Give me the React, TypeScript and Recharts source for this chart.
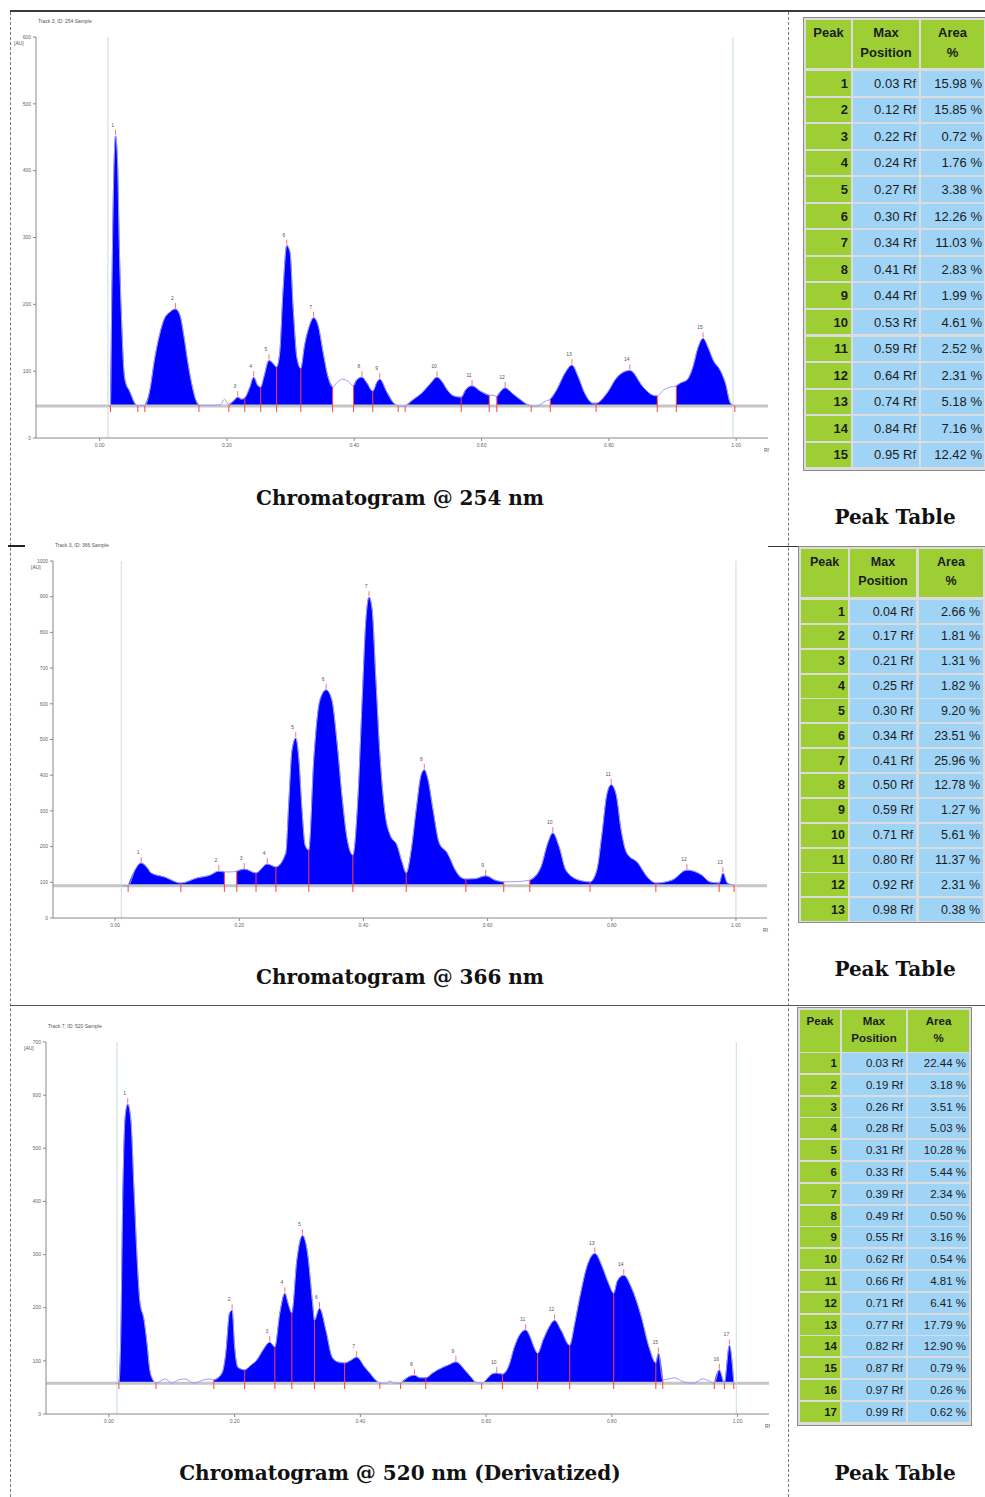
import React from 'react'
import { ComposedChart, Area, Line, XAxis, YAxis, ReferenceLine, Scatter } from 'recharts'

type Pt = [number, number]

// ---- 254 nm : signal [Rf, AU], integration windows, table
const sig254: Pt[] = [
  [0.013, 48], [0.017, 48], [0.019, 206], [0.022, 385], [0.025, 452], [0.028, 415], [0.031, 281], [0.035, 161],
  [0.038, 101], [0.041, 82], [0.046, 72], [0.05, 63], [0.055, 52], [0.06, 48], [0.065, 49], [0.071, 48],
  [0.079, 72], [0.086, 116], [0.094, 154], [0.102, 179], [0.11, 188], [0.119, 193], [0.126, 184], [0.132, 154],
  [0.138, 116], [0.145, 79], [0.151, 57], [0.156, 49], [0.165, 49], [0.18, 49], [0.19, 50], [0.196, 58],
  [0.203, 50], [0.21, 55], [0.217, 61], [0.223, 58], [0.228, 60], [0.236, 76], [0.242, 91], [0.248, 79],
  [0.253, 76], [0.258, 91], [0.266, 116], [0.272, 112], [0.278, 106], [0.283, 128], [0.288, 218], [0.294, 288],
  [0.299, 278], [0.304, 194], [0.31, 119], [0.316, 104], [0.322, 139], [0.33, 169], [0.336, 180], [0.343, 169],
  [0.351, 128], [0.358, 94], [0.366, 76], [0.375, 85], [0.382, 88], [0.39, 85], [0.399, 78], [0.404, 87],
  [0.412, 91], [0.42, 82], [0.429, 70], [0.436, 84], [0.44, 88], [0.451, 69], [0.462, 52], [0.469, 48],
  [0.474, 47], [0.48, 48], [0.492, 57], [0.508, 69], [0.52, 82], [0.53, 91], [0.538, 84], [0.546, 72],
  [0.556, 63], [0.568, 61], [0.575, 72], [0.585, 78], [0.598, 70], [0.612, 64], [0.618, 64], [0.624, 62],
  [0.63, 70], [0.637, 75], [0.648, 67], [0.66, 58], [0.672, 50], [0.678, 48], [0.685, 47], [0.692, 50],
  [0.7, 55], [0.708, 58], [0.718, 72], [0.731, 97], [0.742, 109], [0.752, 91], [0.762, 67], [0.775, 52],
  [0.78, 52], [0.797, 67], [0.813, 91], [0.833, 101], [0.854, 76], [0.869, 64], [0.876, 63], [0.886, 72],
  [0.896, 76], [0.906, 78], [0.912, 82], [0.923, 87], [0.932, 106], [0.94, 135], [0.948, 149], [0.956, 135],
  [0.964, 116], [0.975, 101], [0.983, 82], [0.991, 52], [0.998, 48],
]
const win254: Pt[] = [
  [0.017, 0.06], [0.071, 0.156], [0.203, 0.228], [0.228, 0.253], [0.253, 0.278], [0.278, 0.316], [0.316, 0.366],
  [0.399, 0.429], [0.429, 0.469], [0.48, 0.568], [0.568, 0.612], [0.624, 0.678], [0.708, 0.78], [0.78, 0.876], [0.906, 0.998],
]
const edges254 = [0.013, 0.995]
const yTicks254 = [0, 100, 200, 300, 400, 500, 600]
const pos254 = ['0.03', '0.12', '0.22', '0.24', '0.27', '0.30', '0.34', '0.41', '0.44', '0.53', '0.59', '0.64', '0.74', '0.84', '0.95']
const area254 = ['15.98', '15.85', '0.72', '1.76', '3.38', '12.26', '11.03', '2.83', '1.99', '4.61', '2.52', '2.31', '5.18', '7.16', '12.42']

// ---- 366 nm
const sig366: Pt[] = [
  [0.01, 90], [0.021, 90], [0.032, 134], [0.042, 154], [0.052, 140], [0.058, 126], [0.079, 115], [0.106, 98],
  [0.132, 112], [0.153, 120], [0.167, 131], [0.176, 129], [0.185, 129], [0.196, 131], [0.208, 137], [0.227, 126],
  [0.245, 151], [0.259, 143], [0.275, 182], [0.28, 331], [0.285, 470], [0.291, 504], [0.296, 443], [0.301, 303],
  [0.306, 204], [0.312, 190], [0.32, 443], [0.33, 611], [0.34, 639], [0.349, 611], [0.357, 499], [0.366, 331],
  [0.374, 218], [0.383, 176], [0.391, 331], [0.398, 611], [0.404, 835], [0.409, 899], [0.414, 863], [0.42, 667],
  [0.427, 443], [0.435, 289], [0.443, 232], [0.454, 204], [0.462, 157], [0.469, 126], [0.477, 190], [0.485, 303],
  [0.493, 401], [0.498, 415], [0.504, 387], [0.512, 303], [0.522, 210], [0.535, 182], [0.548, 134], [0.556, 115],
  [0.565, 109], [0.58, 110], [0.597, 118], [0.612, 106], [0.626, 101], [0.647, 102], [0.668, 106], [0.686, 143],
  [0.697, 210], [0.705, 238], [0.715, 200], [0.726, 134], [0.747, 106], [0.765, 101], [0.776, 134], [0.784, 232],
  [0.792, 345], [0.799, 373], [0.807, 345], [0.815, 246], [0.824, 182], [0.842, 154], [0.857, 115], [0.871, 98],
  [0.897, 106], [0.921, 134], [0.945, 120], [0.958, 101], [0.973, 98], [0.979, 126], [0.986, 98], [0.997, 92],
]
const win366: Pt[] = [
  [0.021, 0.106], [0.106, 0.176], [0.196, 0.227], [0.227, 0.259], [0.259, 0.312], [0.312, 0.383], [0.383, 0.469],
  [0.469, 0.565], [0.565, 0.626], [0.668, 0.765], [0.765, 0.871], [0.871, 0.973], [0.973, 0.997],
]
const edges366 = [0.01, 1.0]
const yTicks366 = [0, 100, 200, 300, 400, 500, 600, 700, 800, 900, 1000]
const pos366 = ['0.04', '0.17', '0.21', '0.25', '0.30', '0.34', '0.41', '0.50', '0.59', '0.71', '0.80', '0.92', '0.98']
const area366 = ['2.66', '1.81', '1.31', '1.82', '9.20', '23.51', '25.96', '12.78', '1.27', '5.61', '11.37', '2.31', '0.38']

// ---- 520 nm (derivatized)
const sig520: Pt[] = [
  [0.011, 58], [0.016, 58], [0.019, 150], [0.022, 400], [0.026, 560], [0.03, 583], [0.035, 552], [0.04, 420],
  [0.045, 289], [0.049, 214], [0.056, 176], [0.06, 139], [0.065, 83], [0.07, 64], [0.075, 58], [0.09, 66],
  [0.1, 58], [0.11, 64], [0.121, 66], [0.135, 58], [0.15, 64], [0.16, 66], [0.167, 64], [0.18, 77],
  [0.186, 114], [0.192, 190], [0.196, 195], [0.2, 126], [0.205, 88], [0.216, 83], [0.226, 92], [0.235, 101],
  [0.245, 120], [0.256, 135], [0.264, 126], [0.272, 190], [0.28, 227], [0.285, 208], [0.291, 190], [0.299, 289],
  [0.308, 336], [0.316, 302], [0.324, 208], [0.327, 176], [0.335, 199], [0.345, 158], [0.355, 107], [0.364, 98],
  [0.375, 96], [0.385, 101], [0.394, 107], [0.407, 88], [0.415, 77], [0.424, 64], [0.431, 58], [0.44, 57],
  [0.447, 62], [0.455, 57], [0.464, 58], [0.477, 70], [0.486, 73], [0.495, 68], [0.504, 68], [0.515, 77],
  [0.523, 83], [0.54, 92], [0.552, 98], [0.566, 83], [0.577, 68], [0.583, 60], [0.593, 58], [0.603, 68],
  [0.609, 75], [0.617, 77], [0.626, 75], [0.636, 90], [0.645, 126], [0.654, 150], [0.663, 158], [0.67, 145],
  [0.676, 126], [0.682, 114], [0.691, 140], [0.7, 163], [0.709, 176], [0.719, 158], [0.733, 129], [0.741, 170],
  [0.749, 219], [0.762, 283], [0.773, 302], [0.785, 276], [0.795, 245], [0.803, 227], [0.809, 251], [0.819, 261],
  [0.831, 238], [0.847, 182], [0.859, 126], [0.87, 96], [0.874, 114], [0.881, 64], [0.89, 66], [0.9, 68],
  [0.915, 60], [0.93, 58], [0.945, 66], [0.955, 62], [0.963, 58], [0.971, 83], [0.979, 58], [0.987, 129], [0.994, 58],
]
const win520: Pt[] = [
  [0.016, 0.075], [0.167, 0.216], [0.216, 0.264], [0.264, 0.291], [0.291, 0.327], [0.327, 0.375], [0.375, 0.431],
  [0.464, 0.504], [0.504, 0.593], [0.593, 0.626], [0.626, 0.682], [0.682, 0.733], [0.733, 0.803], [0.803, 0.87],
  [0.87, 0.881], [0.963, 0.979], [0.979, 0.994],
]
const edges520 = [0.013, 0.998]
const yTicks520 = [0, 100, 200, 300, 400, 500, 600, 700]
const pos520 = ['0.03', '0.19', '0.26', '0.28', '0.31', '0.33', '0.39', '0.49', '0.55', '0.62', '0.66', '0.71', '0.77', '0.82', '0.87', '0.97', '0.99']
const area520 = ['22.44', '3.18', '3.51', '5.03', '10.28', '5.44', '2.34', '0.50', '3.16', '0.54', '4.81', '6.41', '17.79', '12.90', '0.79', '0.26', '0.62']

const xTicks = [0, 0.2, 0.4, 0.6, 0.8, 1.0]
const GREEN = '#9dcf35'
const BLUE = '#9fd4f6'

const PeakMark = (p: any) => {
  const { cx, cy, payload } = p
  if (cx == null || cy == null) return <g />
  return (
    <g>
      <line x1={cx} x2={cx} y1={cy - 1} y2={cy - 6} stroke="#ff7070" strokeWidth={1} />
      <text x={cx - 3} y={cy - 9} fontSize={5} fill="#555" textAnchor="middle" fontFamily="Liberation Sans">{payload.id}</text>
    </g>
  )
}

function Chromatogram({ sig, wins, edges, base, yTicks, tickAU, box, title }: any) {
  const YW = 30, MT = 12, MR = 14, XH = 22
  const inWin = (rf: number) => wins.some(([a, b]: Pt) => rf >= a - 1e-9 && rf <= b + 1e-9)
  const data = sig.map(([rf, v]: Pt) => ({ rf, sig: v, fill: inWin(rf) ? v : null }))
  const bounds: number[] = Array.from(new Set<number>(wins.flat())).sort((a, b) => a - b)
  const at = (x: number) => { const p = sig.find((q: Pt) => Math.abs(q[0] - x) < 1e-9); return p ? p[1] : base }
  const tops = wins.map(([a, b]: Pt, i: number) => {
    let best: any = null
    for (const [rf, v] of sig) if (rf >= a && rf <= b && (!best || v > best.au)) best = { rf, au: v, id: i + 1 }
    return best
  })
  const yMax = yTicks[yTicks.length - 1]
  return (
    <>
      <div style={{ position: 'absolute', left: box.left + 2, top: box.top - 19, fontSize: 5, color: '#555' }}>{title}</div>
      <div style={{ position: 'absolute', left: box.left - 22, top: box.top + 3, fontSize: 5, color: '#555' }}>[AU]</div>
      <div style={{ position: 'absolute', left: box.left + box.w - 4, top: box.top + box.h + 9, fontSize: 5, color: '#555' }}>Rf</div>
      <div style={{ position: 'absolute', left: box.left - YW, top: box.top - MT }}>
        <ComposedChart width={YW + box.w + MR} height={MT + box.h + XH} data={data} margin={{ top: MT, right: MR, bottom: 0, left: 0 }}>
          <XAxis type="number" dataKey="rf" domain={[-0.1, 1.05]} ticks={xTicks} allowDataOverflow
            tickFormatter={(v: number) => v.toFixed(2)} tick={{ fontSize: 5, fill: '#666' }} tickSize={3} stroke="#888" height={XH} interval={0} />
          <YAxis type="number" domain={[0, yMax]} ticks={yTicks} allowDataOverflow width={YW}
            tick={{ fontSize: 5, fill: '#666' }} tickSize={3} stroke="#888" interval={0} />
          <ReferenceLine y={base} stroke="#c6c6c6" strokeWidth={3} />
          {edges.map((e: number) => <ReferenceLine key={'e' + e} x={e} stroke="#c6dddd" strokeWidth={1} />)}
          <Line dataKey="sig" type="monotone" stroke="#9a9aff" strokeWidth={1} dot={false} isAnimationActive={false} />
          <Area dataKey="fill" type="monotone" baseValue={base} fill="#0000ff" fillOpacity={1} stroke="#1a1aff" strokeWidth={0.6}
            connectNulls={false} isAnimationActive={false} />
          {bounds.map((b) => (
            <ReferenceLine key={'b' + b} segment={[{ x: b, y: base - tickAU }, { x: b, y: at(b) }]} stroke="#ff4040" strokeWidth={1} />
          ))}
          <Scatter data={tops} dataKey="au" shape={PeakMark} isAnimationActive={false} />
        </ComposedChart>
      </div>
    </>
  )
}

function PeakTable({ pos, area, g }: { pos: string[]; area: string[]; g: any }) {
  const [px, mx, ax] = g.x
  const [pw, mw, aw] = g.w
  const head: React.CSSProperties = { position: 'absolute', top: g.top, height: g.headH, background: GREEN, textAlign: 'center',
    fontWeight: 'bold', fontSize: g.fs, lineHeight: g.lh + 'px', paddingTop: g.pt, boxSizing: 'border-box', color: '#1b1b1b' }
  return (
    <>
      <div style={{ position: 'absolute', left: g.frame[0], top: g.frame[1], width: g.frame[2], height: g.frame[3], background: '#dcdcdc', border: '1px solid #8a8a8a', boxSizing: 'border-box' }} />
      <div style={{ ...head, left: px, width: pw }}>Peak</div>
      <div style={{ ...head, left: mx, width: mw }}>Max<br />Position</div>
      <div style={{ ...head, left: ax, width: aw }}>Area<br />%</div>
      {pos.map((p, i) => {
        const top = g.rowTop + i * g.pitch
        const cell: React.CSSProperties = { position: 'absolute', top, height: g.rowH, display: 'flex', alignItems: 'center',
          justifyContent: 'flex-end', fontSize: g.fs, color: '#1b1b1b', boxSizing: 'border-box', paddingRight: 3, whiteSpace: 'nowrap' }
        return (
          <React.Fragment key={i}>
            <div style={{ ...cell, left: px, width: pw, background: GREEN, fontWeight: 'bold' }}>{i + 1}</div>
            <div style={{ ...cell, left: mx, width: mw, background: BLUE }}>{p} Rf</div>
            <div style={{ ...cell, left: ax, width: aw, background: BLUE, paddingRight: g.apr }}>{area[i]} %</div>
          </React.Fragment>
        )
      })}
    </>
  )
}

const serif: React.CSSProperties = { position: 'absolute', fontFamily: '"DejaVu Serif"', fontWeight: 'bold', fontSize: 20, lineHeight: '24px', textAlign: 'center', color: '#111' }

export default function App() {
  return (
    <div style={{ position: 'absolute', left: 0, top: 0, width: 985, height: 1497, background: '#fff', overflow: 'hidden', fontFamily: '"Liberation Sans", Arial, sans-serif' }}>
      {/* frame lines */}
      <div style={{ position: 'absolute', left: 10, top: 10, width: 975, height: 2, background: '#3a3a3a' }} />
      <div style={{ position: 'absolute', left: 10, top: 12, height: 1485, borderLeft: '1px dashed #777' }} />
      <div style={{ position: 'absolute', left: 788, top: 12, height: 1485, borderLeft: '1px dashed #777' }} />
      <div style={{ position: 'absolute', left: 8, top: 545, width: 17, height: 2, background: '#222' }} />
      <div style={{ position: 'absolute', left: 768, top: 546, width: 217, height: 1, background: '#333' }} />
      <div style={{ position: 'absolute', left: 10, top: 1005, width: 975, height: 1, background: '#555' }} />

      <Chromatogram sig={sig254} wins={win254} edges={edges254} base={48} yTicks={yTicks254} tickAU={9}
        box={{ left: 36, top: 37, w: 732, h: 401 }} title="Track 3, ID: 254 Sample" />
      <Chromatogram sig={sig366} wins={win366} edges={edges366} base={90} yTicks={yTicks366} tickAU={17}
        box={{ left: 53, top: 561, w: 714, h: 357 }} title="Track 3, ID: 366 Sample" />
      <Chromatogram sig={sig520} wins={win520} edges={edges520} base={58} yTicks={yTicks520} tickAU={11}
        box={{ left: 46, top: 1042, w: 723, h: 372 }} title="Track 7, ID: 520 Sample" />

      <div style={{ ...serif, left: 10, width: 780, top: 486 }}>Chromatogram @ 254 nm</div>
      <div style={{ ...serif, left: 10, width: 780, top: 965 }}>Chromatogram @ 366 nm</div>
      <div style={{ ...serif, left: 10, width: 780, top: 1461 }}>Chromatogram @ 520 nm (Derivatized)</div>
      <div style={{ ...serif, left: 805, width: 180, top: 505 }}>Peak Table</div>
      <div style={{ ...serif, left: 805, width: 180, top: 957 }}>Peak Table</div>
      <div style={{ ...serif, left: 805, width: 180, top: 1461 }}>Peak Table</div>

      <PeakTable pos={pos254} area={area254} g={{ frame: [803, 17, 190, 454], x: [806, 853, 921], w: [45, 66, 63], top: 20, headH: 48,
        lh: 20, pt: 3, rowTop: 71, pitch: 26.55, rowH: 24.5, fs: 13, apr: 2 }} />
      <PeakTable pos={pos366} area={area366} g={{ frame: [798, 546, 188, 377], x: [801, 850, 919], w: [47, 66, 64], top: 549, headH: 48,
        lh: 19, pt: 4, rowTop: 600, pitch: 24.85, rowH: 23, fs: 12.5, apr: 3 }} />
      <PeakTable pos={pos520} area={area520} g={{ frame: [797, 1007, 175, 419], x: [800, 842, 908], w: [40, 64, 61], top: 1010, headH: 42,
        lh: 17, pt: 3, rowTop: 1053, pitch: 21.8, rowH: 20, fs: 11.5, apr: 3 }} />
    </div>
  )
}
